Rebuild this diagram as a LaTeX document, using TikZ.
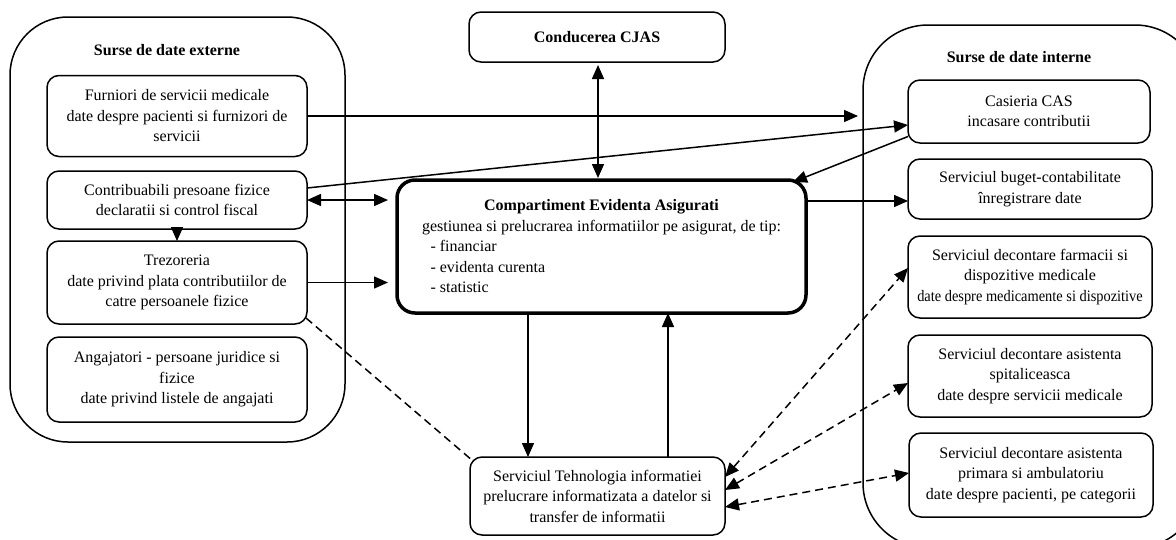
\documentclass[tikz,border=0pt]{standalone}
\usepackage{fontspec}
\setmainfont{Liberation Serif}
\usepackage{graphicx}
\usetikzlibrary{arrows.meta}

\begin{document}
\begin{tikzpicture}[x=1pt,y=-1pt,
  every node/.style={font=\fontsize{16}{20.5}\selectfont},
  box/.style={draw,line width=1.5pt,rounded corners=12pt,align=center,inner sep=0pt,outer sep=0pt},
  outerbox/.style={draw,line width=1.5pt,rounded corners=58pt,inner sep=0pt,outer sep=0pt},
  mainbox/.style={box,line width=3.5pt,rounded corners=18pt},
  conn/.style={line width=1.5pt},
  dline/.style={conn,dash pattern=on 8pt off 5pt},
  >={Triangle[length=14pt,width=12pt]}]

\useasboundingbox (0,0) rectangle (1176,539);

\node [outerbox,minimum width=335pt,minimum height=425pt] (ext) at (177.5,229.5) {};
\node [font=\fontsize{16}{20}\selectfont\bfseries] (exttitle) at (167,50) {Surse de date externe};

\begin{scope}
\clip (0,0) rectangle (1176,539);
\node [outerbox,rounded corners=65pt,minimum width=337pt,minimum height=523pt] (int) at (1031.5,286.5) {};
\end{scope}
\node [font=\fontsize{16}{20}\selectfont\bfseries] (inttitle) at (1019,57) {Surse de date interne};

\node [box,minimum width=260pt,minimum height=81pt] (furn) at (177,116) {Furniori de servicii medicale\\ date despre pacienti si furnizori de\\ servicii};
\node [box,minimum width=260pt,minimum height=58pt] (contrib) at (177,200) {Contribuabili presoane fizice\\ declaratii si control fiscal};
\node [box,minimum width=260pt,minimum height=83pt] (trez) at (177,282.5) {Trezoreria\\ date privind plata contributiilor de\\ catre persoanele fizice};
\node [box,minimum width=260pt,minimum height=85pt] (angaj) at (177,379.5) {Angajatori - persoane juridice si\\ fizice\\ date privind listele de angajati};

\node [box,minimum width=256pt,minimum height=50pt,font=\fontsize{16}{20}\selectfont\bfseries] (cond) at (597,37) {Conducerea CJAS};
\node [mainbox,minimum width=409pt,minimum height=133pt] (main) at (601.5,246.5) {\textbf{Compartiment Evidenta Asigurati}\\ gestiunea si prelucrarea informatiilor pe asigurat, de tip:\\ \makebox[360pt][l]{\hspace{9pt}- financiar}\\ \makebox[360pt][l]{\hspace{9pt}- evidenta curenta}\\ \makebox[360pt][l]{\hspace{9pt}- statistic}};
\node [box,minimum width=255pt,minimum height=78pt] (tehn) at (597.5,496) {Serviciul Tehnologia informatiei\\ prelucrare informatizata a datelor si\\ transfer de informatii};

\node [box,minimum width=242pt,minimum height=63pt] (casier) at (1029,111.5) {Casieria CAS\\ incasare contributii};
\node [box,minimum width=244pt,minimum height=60pt] (buget) at (1030,189) {Serviciul buget-contabilitate\\ înregistrare date};
\node [box,minimum width=244pt,minimum height=82pt] (farm) at (1030,277) {Serviciul decontare farmacii si\\ dispozitive medicale\\ \scalebox{0.9}[1]{date despre medicamente si dispozitive}};
\node [box,minimum width=244pt,minimum height=82pt] (spit) at (1030,376) {Serviciul decontare asistenta\\ spitaliceasca\\ date despre servicii medicale};
\node [box,minimum width=244pt,minimum height=84pt] (prim) at (1031,475) {Serviciul decontare asistenta\\ primara si ambulatoriu\\ date despre pacienti, pe categorii};

\coordinate (intin) at (858,116);
\coordinate (mainout) at ([yshift=45.5pt]main.east);
\coordinate (dn) at ([xshift=-73.5pt]main.south);
\coordinate (up) at ([xshift=66.5pt]main.south);

\draw [conn,->] (furn.east) -- (intin);
\draw [conn,->] ([yshift=12pt]contrib.east) -- ([yshift=-13.5pt]casier.west);
\draw [conn,->] ([yshift=-25pt]casier.west) -- ([xshift=-13pt,yshift=-2pt]main.north east);
\draw [conn,<->,shorten >=9pt] (contrib.east) -- (main.west |- contrib.east);
\draw [conn,->,shorten >=9pt] (trez.east) -- (main.west |- trez.east);
\draw [conn,->] (contrib.south) -- (trez.north);
\draw [conn,->] (mainout) -- (mainout -| buget.west);
\draw [conn,<->,shorten <=3pt,shorten >=2pt] (cond.south -| 598,0) -- (main.north -| 598,0);
\draw [conn,->] (dn) -- (dn |- tehn.north);
\draw [conn,->] (up |- tehn.north) -- (up);

\draw [dline] ([shift={(-1pt,6pt)}]trez.south east) -- ([shift={(3pt,-4pt)}]tehn.north west);
\draw [dline,<->] ([yshift=19pt]tehn.east) -- ([yshift=9pt]farm.west);
\draw [dline,<->] ([yshift=6pt]tehn.east) -- ([yshift=-7pt]spit.west);
\draw [dline,<->] ([yshift=-11pt]tehn.east) -- ([yshift=2pt]prim.west);

\end{tikzpicture}
\end{document}
